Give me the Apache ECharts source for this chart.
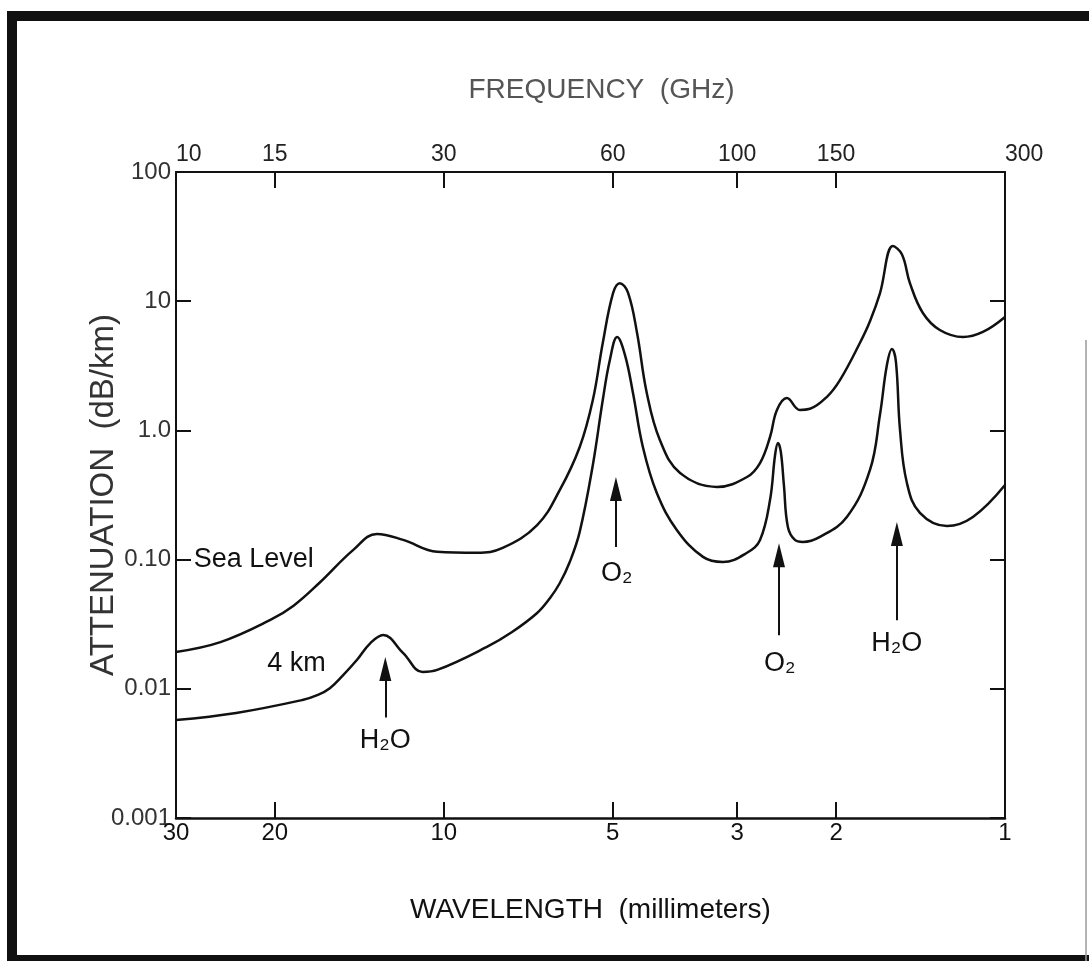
<!DOCTYPE html>
<html>
<head>
<meta charset="utf-8">
<script src="https://cdn.jsdelivr.net/npm/echarts@6/dist/echarts.min.js"></script>
<style>
  html, body { margin: 0; padding: 0; background: #fff; }
  #chart { width: 1089px; height: 961px; }
</style>
</head>
<body>
<div id="chart"></div>
<script>
// Axis tick values
const freqTicks = [10, 15, 30, 60, 100, 150, 300];      // GHz, top axis
const waveTicks = [30, 20, 10, 5, 3, 2, 1];              // mm, bottom axis
const attenTicks = [0.001, 0.01, 0.1, 1, 10, 100];       // dB/km
const attenTickLabels = ['0.001', '0.01', '0.10', '1.0', '10', '100'];

// Sea level: frequency (GHz) and attenuation (dB/km)
const seaLevelFreq = [10.0, 12.0, 14.7, 16.2, 18.0, 20.7, 22.8, 25.4, 29.2, 34.4, 38.2, 44.0, 48.3, 52.4, 55.3, 57.6, 60.1, 61.8, 63.9, 66.3, 69.0, 72.8, 79.1, 92.0, 104.1, 109.8, 114.4, 117.7, 122.6, 129.3, 134.8, 144.5, 152.4, 165.4, 172.4, 179.6, 189.4, 196.6, 203.1, 214.2, 229.6, 252.5, 274.0, 300];
const seaLevelAtten = [0.0193, 0.0230, 0.0340, 0.044, 0.0659, 0.119, 0.158, 0.142, 0.115, 0.113, 0.123, 0.185, 0.346, 0.744, 1.72, 4.75, 11.6, 13.8, 11.6, 5.68, 1.95, 0.843, 0.468, 0.365, 0.436, 0.559, 0.889, 1.44, 1.78, 1.44, 1.47, 1.82, 2.45, 4.75, 7.0, 11.5, 26.7, 23.0, 13.8, 8.1, 5.98, 5.28, 5.78, 7.55];

// 4 km altitude: frequency (GHz) and attenuation (dB/km)
const km4Freq = [10.0, 12.8, 16.8, 17.9, 18.8, 19.8, 21.0, 22.2, 23.4, 25.4, 27.5, 29.2, 35.8, 39.7, 44.0, 46.4, 48.3, 50.3, 52.4, 55.3, 57.6, 59.3, 61.1, 63.1, 65.2, 67.9, 71.9, 78.1, 86.9, 94.3, 104.1, 109.8, 114.4, 116.8, 118.2, 119.6, 121.1, 123.1, 126.7, 130.9, 140.4, 156.8, 172.4, 179.6, 184.8, 188.7, 191.8, 195.0, 200.6, 211.6, 236.4, 263.0, 300];
const km4Atten = [0.00573, 0.00650, 0.00819, 0.00896, 0.0101, 0.0126, 0.0167, 0.0226, 0.0261, 0.0189, 0.0135, 0.0140, 0.0211, 0.0275, 0.0386, 0.0505, 0.0659, 0.0958, 0.164, 0.540, 1.72, 3.51, 5.28, 3.83, 1.95, 0.744, 0.328, 0.169, 0.105, 0.0958, 0.113, 0.142, 0.289, 0.645, 0.799, 0.680, 0.378, 0.179, 0.142, 0.137, 0.150, 0.214, 0.494, 1.32, 3.21, 4.27, 3.38, 1.01, 0.392, 0.230, 0.182, 0.214, 0.378];

// Absorption-line arrows: frequency, tail and head attenuation
const lineArrows = [
  { freq: 23.6, from: 0.0060, to: 0.0142 },
  { freq: 60.8, from: 0.125, to: 0.352 },
  { freq: 118.7, from: 0.026, to: 0.108 },
  { freq: 192.5, from: 0.034, to: 0.158 }
];
// Text annotations: label, frequency, attenuation, alignment
const annotations = [
  { text: 'Sea Level', freq: 10.75, atten: 0.1, align: 'left' },
  { text: '4 km', freq: 16.4, atten: 0.0158, align: 'center' },
  { text: 'H\u2082O', freq: 23.6, atten: 0.0040, align: 'center' },
  { text: 'O\u2082', freq: 61.0, atten: 0.078, align: 'center' },
  { text: 'O\u2082', freq: 119.0, atten: 0.0158, align: 'center' },
  { text: 'H\u2082O', freq: 192.5, atten: 0.0226, align: 'center' }
];

const INK = '#111';
const FONT = '"Liberation Sans", Arial, Helvetica, sans-serif';

function attenLabel(v) {
  const idx = Math.round(Math.log10(v)) + 3;
  return attenTickLabels[idx] !== undefined ? attenTickLabels[idx] : '';
}

const chart = echarts.init(document.getElementById('chart'), null, { renderer: 'canvas' });

const option = {
  backgroundColor: '#fff',
  animation: false,
  grid: { left: 176, right: 84, top: 172, bottom: 143, containLabel: false },
  xAxis: [
    {
      type: 'log', logBase: 10, min: 10, max: 300, position: 'top',
      name: 'FREQUENCY  (GHz)', nameLocation: 'middle', nameGap: 68, nameMoveOverlap: false,
      nameTextStyle: { color: '#555', fontSize: 28, fontFamily: FONT, padding: [0, 0, 0, 22] },
      axisLine: { show: true, lineStyle: { color: INK, width: 2 } },
      axisTick: { show: true, inside: true, length: 16, customValues: freqTicks.slice(1, -1), lineStyle: { color: INK, width: 2 } },
      axisLabel: { show: true, customValues: freqTicks, margin: 6, color: '#222', fontSize: 23, fontFamily: FONT,
        alignMinLabel: 'left', alignMaxLabel: 'left',
        formatter: v => String(Math.round(v)) },
      splitLine: { show: false },
      minorTick: { show: false }
    },
    {
      type: 'log', logBase: 10, min: 1, max: 30, inverse: true, position: 'bottom',
      name: 'WAVELENGTH  (millimeters)', nameLocation: 'middle', nameGap: 78,
      nameTextStyle: { color: INK, fontSize: 28, fontFamily: FONT },
      axisLine: { show: true, lineStyle: { color: INK, width: 2.5 } },
      axisTick: { show: true, inside: true, length: 16, customValues: waveTicks.slice(1, -1), lineStyle: { color: INK, width: 2 } },
      axisLabel: { show: true, customValues: waveTicks, margin: 3, color: INK, fontSize: 24, fontFamily: FONT,
        formatter: v => String(Math.round(v)) },
      splitLine: { show: false }
    }
  ],
  yAxis: [
    {
      type: 'log', logBase: 10, min: 0.001, max: 100, position: 'left',
      name: 'ATTENUATION  (dB/km)', nameLocation: 'middle', nameGap: 56, nameRotate: 90, nameMoveOverlap: false,
      nameTextStyle: { color: '#333', fontSize: 33, fontFamily: FONT },
      axisLine: { show: true, lineStyle: { color: INK, width: 2 } },
      axisTick: { show: true, inside: true, length: 15, lineStyle: { color: INK, width: 2 } },
      axisLabel: { show: true, margin: 5, color: '#333', fontSize: 24, fontFamily: FONT, formatter: attenLabel },
      splitLine: { show: false }
    },
    {
      type: 'log', logBase: 10, min: 0.001, max: 100, position: 'right',
      axisLine: { show: true, lineStyle: { color: INK, width: 2 } },
      axisTick: { show: true, inside: true, length: 15, lineStyle: { color: INK, width: 2 } },
      axisLabel: { show: false },
      splitLine: { show: false }
    }
  ],
  series: [
    {
      name: 'Sea Level', type: 'line', xAxisIndex: 0, yAxisIndex: 0,
      data: seaLevelFreq.map((f, i) => [f, seaLevelAtten[i]]),
      smooth: 0.4, showSymbol: false, symbol: 'none',
      lineStyle: { color: INK, width: 2.5 },
      markLine: {
        silent: true, symbol: ['none', 'triangle'], symbolSize: 18,
        itemStyle: { color: INK },
        lineStyle: { color: INK, width: 2, type: 'solid' },
        label: { show: false },
        data: lineArrows.map(a => [
          { coord: [a.freq, a.from], symbol: 'none' },
          { coord: [a.freq, a.to], symbol: 'triangle', symbolSize: [12, 24], itemStyle: { color: INK } }
        ])
      },
      markPoint: {
        silent: true, symbol: 'circle', symbolSize: 0,
        label: { show: true, position: 'inside', color: INK, fontSize: 27, fontFamily: FONT },
        data: annotations.map(a => ({
          coord: [a.freq, a.atten], value: a.text,
          label: { formatter: a.text, align: a.align, verticalAlign: 'middle' }
        }))
      }
    },
    {
      name: '4 km', type: 'line', xAxisIndex: 0, yAxisIndex: 0,
      data: km4Freq.map((f, i) => [f, km4Atten[i]]),
      smooth: 0.4, showSymbol: false, symbol: 'none',
      lineStyle: { color: INK, width: 2.5 }
    }
  ],
  graphic: [
    { type: 'rect', silent: true, z: 100,
      shape: { x: 12, y: 16, width: 1100, height: 944 },
      style: { fill: 'none', stroke: '#111', lineWidth: 10 } },
    { type: 'line', silent: true, z: 100,
      shape: { x1: 1086, y1: 340, x2: 1086, y2: 961 },
      style: { stroke: '#9a9a9a', lineWidth: 1.5 } }
  ]
};

chart.setOption(option);
</script>
</body>
</html>
